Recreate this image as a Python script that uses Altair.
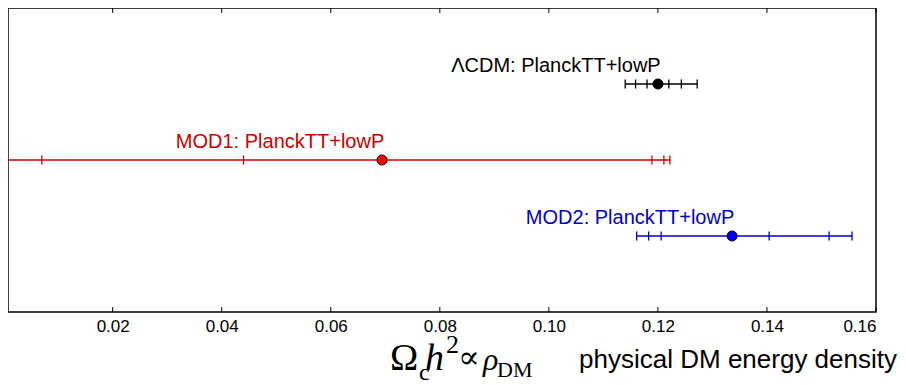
import altair as alt
import pandas as pd

# ---- data ----
models = ["ΛCDM: PlanckTT+lowP", "MOD1: PlanckTT+lowP", "MOD2: PlanckTT+lowP"]
rows = [1, 2, 3]
centers = [0.1200, 0.0694, 0.1336]
lo1 = [0.1180, 0.0440, 0.1206]
hi1 = [0.1220, 0.1189, 0.1404]
lo2 = [0.1159, 0.0070, 0.1183]
hi2 = [0.1243, 0.1211, 0.1514]
lo3 = [0.1140, -0.0100, 0.1161]
hi3 = [0.1272, 0.1222, 0.1556]
line_colors = ["#000000", "#cc0000", "#0000cc"]
fill_colors = ["#000000", "#ff0000", "#0000ff"]
x_ticks = [0.02, 0.04, 0.06, 0.08, 0.10, 0.12, 0.14, 0.16]

W, H = 868, 304

df = pd.DataFrame({"model": models, "row": rows, "center": centers,
                   "lo3": lo3, "hi3": hi3})
caps = []
for i, m in enumerate(models):
    for v in (lo1[i], hi1[i], lo2[i], hi2[i], lo3[i], hi3[i]):
        caps.append({"model": m, "row": rows[i], "v": v})
caps = pd.DataFrame(caps)

xscale = alt.Scale(domain=[0.0008, 0.16], nice=False, zero=False)
yscale = alt.Scale(domain=[0, 4], reverse=True, nice=False)
col_line = alt.Color("model:N", scale=alt.Scale(domain=models, range=line_colors), legend=None)
col_fill = alt.Fill("model:N", scale=alt.Scale(domain=models, range=fill_colors), legend=None)

xaxis = alt.Axis(values=x_ticks, format=".2f", grid=False, ticks=False, domain=False,
                 labelFont="Liberation Sans", labelFontSize=17, labelColor="black",
                 labelPadding=6, title=None)

lines = alt.Chart(df).mark_rule(strokeWidth=1.6, clip=True).encode(
    x=alt.X("lo3:Q", scale=xscale, axis=xaxis), x2="hi3:Q",
    y=alt.Y("row:Q", scale=yscale, axis=None), color=col_line)

capmarks = alt.Chart(caps).transform_calculate(
    y1="datum.row - 0.06", y2="datum.row + 0.06"
).mark_rule(strokeWidth=1.3, clip=True).encode(
    x=alt.X("v:Q", scale=xscale), y=alt.Y("y1:Q", scale=yscale), y2="y2:Q", color=col_line)

dots = alt.Chart(df).mark_circle(size=100, stroke="black", strokeWidth=1, opacity=1).encode(
    x=alt.X("center:Q", scale=xscale), y=alt.Y("row:Q", scale=yscale), fill=col_fill)

labels = alt.Chart(df).mark_text(align="center", baseline="alphabetic", dx=-102, dy=-12,
                                 font="Liberation Sans", fontSize=20).encode(
    x=alt.X("center:Q", scale=xscale), y=alt.Y("row:Q", scale=yscale),
    text="model:N", color=col_line)

tdf = pd.DataFrame({"t": x_ticks})
ticks_bottom = alt.Chart(tdf).mark_rule(color="black", strokeWidth=1).encode(
    x=alt.X("t:Q", scale=xscale), y=alt.value(H), y2=alt.value(H - 5))
ticks_top = alt.Chart(tdf).mark_rule(color="black", strokeWidth=1).encode(
    x=alt.X("t:Q", scale=xscale), y=alt.value(0), y2=alt.value(5))


def piece(text, x, y, size, font="Liberation Serif", style="normal", align="left"):
    return alt.Chart(pd.DataFrame({"s": [text]})).mark_text(
        font=font, fontSize=size, fontStyle=style, align=align, baseline="alphabetic",
        color="black").encode(x=alt.value(x), y=alt.value(y), text="s:N")


title_parts = [
    piece("Ω", 382, 362, 38),
    piece("c", 411, 372, 24),
    piece("h", 417, 362, 38, style="italic"),
    piece("2", 438, 345, 26),
    piece("∝", 450, 360, 32, font="DejaVu Serif"),
    piece("ρ", 475, 362, 32, style="italic"),
    piece("DM", 489, 369, 22),
    piece("physical DM energy density", 889, 360, 26, font="Liberation Sans", align="right"),
]

chart = alt.layer(lines, capmarks, dots, labels, ticks_bottom, ticks_top, *title_parts).properties(
    width=W, height=H,
    autosize=alt.AutoSizeParams(type="none"),
    padding={"left": 0, "top": 0, "right": 22, "bottom": 73},
).configure_view(stroke="black", strokeWidth=1.5)

chart.save("out.html", embed_options={"renderer": "svg", "actions": False})
